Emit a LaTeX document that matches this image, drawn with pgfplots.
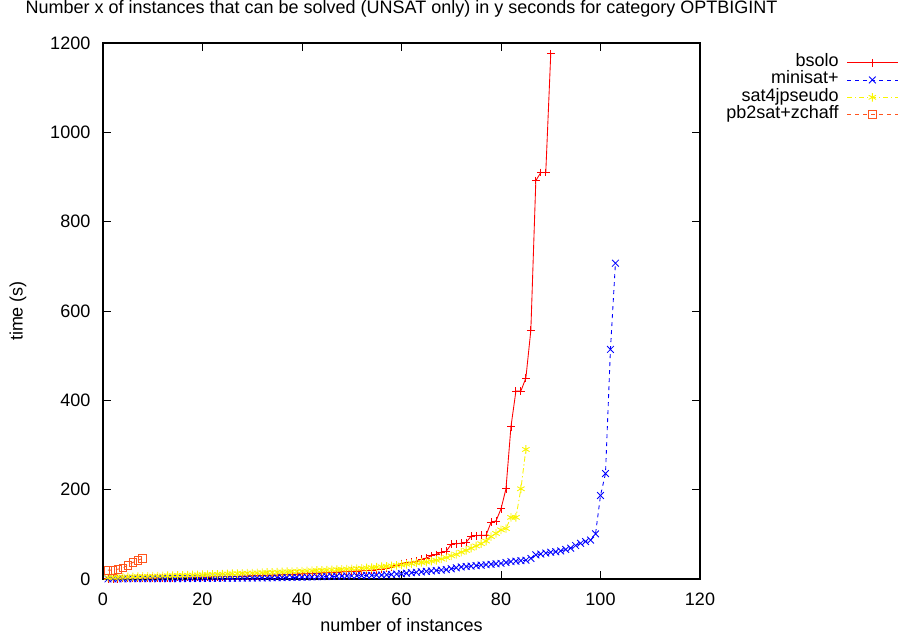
\documentclass[border=0pt]{standalone}
\usepackage{fontspec}
\setmainfont{Liberation Sans}
\usepackage{pgfplots}
\pgfplotsset{compat=1.18}
\definecolor{pbcol}{RGB}{255,85,30}
\definecolor{ylw}{RGB}{250,245,0}
\begin{document}
\begin{tikzpicture}[font=\fontsize{13.5}{15}\selectfont]
\path[use as bounding box] (-77.25pt,-45pt) rectangle (599.25pt,434.25pt);
\begin{axis}[
  scale only axis, width=447.75pt, height=402pt,
  xmin=0, xmax=120, ymin=0, ymax=1200,
  xtick={0,20,...,120}, ytick={0,200,...,1200},
  tick align=inside, major tick length=6pt,
  axis line style={line width=0.8pt},
  tick style={black, line width=0.6pt},
  /pgf/number format/assume math mode=true,
  /pgf/number format/1000 sep={},
  tick label style={font=\fontsize{13.5}{15}\selectfont},
  xticklabel style={yshift=-7pt},
  yticklabel style={xshift=-6pt},
  clip=false,
  title={Number x of instances that can be solved (UNSAT only) in y seconds for category OPTBIGINT},
  title style={at={(axis description cs:0.5,1)}, anchor=base, yshift=16pt},
  xlabel={number of instances},
  xlabel style={at={(axis description cs:0.5,-0.0858)}, anchor=center},
  ylabel={time (s)},
  ylabel style={at={(axis description cs:-0.1424,0.5)}, anchor=center, rotate=0},
  legend cell align=right,
  legend plot pos=right,
  legend style={draw=none, fill=none, at={(axis description cs:1.339,0.985)}, anchor=north east,
    nodes={inner sep=1pt, text height=8.5pt, text depth=2.5pt},
    row sep=0pt},
  legend image code/.code={\path (0pt,0pt); \draw[mark repeat=2,mark phase=2] plot coordinates {(5pt,0pt) (24pt,0pt) (43pt,0pt)};},
  every axis plot/.append style={line width=0.65pt, mark size=2.9pt, mark options={solid}},
]
\addplot[red, mark=+] coordinates {
(1,0.5)(2,0.6)(3,0.8)(4,1)(5,1.1)(6,1.3)(7,1.5)(8,1.7)(9,2)(10,2.2)
(11,2.4)(12,2.6)(13,2.8)(14,3)(15,3.2)(16,3.4)(17,3.6)(18,3.8)(19,4)(20,4.2)
(21,4.5)(22,4.8)(23,5)(24,5.3)(25,5.6)(26,5.9)(27,6.2)(28,6.5)(29,6.8)(30,7.1)
(31,7.5)(32,7.9)(33,8.3)(34,8.7)(35,9.1)(36,9.5)(37,10)(38,10.5)(39,11)(40,11.5)
(41,12)(42,12.5)(43,13)(44,13.6)(45,14.2)(46,14.8)(47,15.4)(48,16)(49,16.6)(50,17.2)
(51,17.8)(52,18.4)(53,19)(54,19.6)(55,20.5)(56,22)(57,24)(58,27)(59,30)(60,35)
(61,36)(62,38)(63,40)(64,44)(65,47)(66,52)(67,55)(68,60)(69,62)(70,78)
(71,79)(72,80)(73,82)(74,96)(75,97)(76,98)(77,98)(78,127)(79,130)(80,157)
(81,202)(82,341)(83,421)(84,421)(85,450)(86,557)(87,892)(88,910)(89,910)(90,1176)
};
\addlegendentry{bsolo}
\addplot[blue, mark=x, mark size=3.6pt, dash pattern=on 3pt off 3pt] coordinates {
(1,0.2)(2,0.3)(3,0.3)(4,0.4)(5,0.4)(6,0.5)(7,0.5)(8,0.6)(9,0.6)(10,0.7)
(11,0.7)(12,0.8)(13,0.8)(14,0.9)(15,0.9)(16,1)(17,1)(18,1.1)(19,1.2)(20,1.3)
(21,1.4)(22,1.5)(23,1.6)(24,1.7)(25,1.8)(26,1.9)(27,2)(28,2.1)(29,2.2)(30,2.3)
(31,2.4)(32,2.5)(33,2.6)(34,2.8)(35,3)(36,3.2)(37,3.4)(38,3.6)(39,3.8)(40,4)
(41,4.3)(42,4.6)(43,4.9)(44,5.2)(45,5.5)(46,5.8)(47,6.1)(48,6.4)(49,6.7)(50,7)
(51,7.3)(52,7.6)(53,7.9)(54,8.2)(55,8.5)(56,8.8)(57,9.2)(58,10)(59,11)(60,12)
(61,13)(62,14)(63,15)(64,16)(65,17)(66,18)(67,19)(68,20)(69,21)(70,23)
(71,25)(72,27)(73,28)(74,29)(75,30)(76,31)(77,32)(78,33)(79,34)(80,35)
(81,37)(82,39)(83,40)(84,41)(85,42)(86,46)(87,54)(88,56)(89,58)(90,60)
(91,61)(92,63)(93,66)(94,69)(95,75)(96,80)(97,84)(98,87)(99,101)(100,187)
(101,236)(102,514)(103,707)
};
\addlegendentry{minisat+}
\addplot[ylw, mark=asterisk, mark size=3.2pt, dash pattern=on 4pt off 2pt on 1pt off 2pt] coordinates {
(1,3)(2,3.5)(3,4)(4,4.3)(5,4.6)(6,5)(7,5.3)(8,5.6)(9,6)(10,6.3)
(11,6.6)(12,7)(13,7.3)(14,7.6)(15,8)(16,8.3)(17,8.6)(18,9)(19,9.3)(20,9.6)
(21,10)(22,10.3)(23,10.6)(24,11)(25,11.4)(26,11.8)(27,12.2)(28,12.6)(29,13)(30,13.4)
(31,13.8)(32,14.2)(33,14.6)(34,15)(35,15.4)(36,15.8)(37,16.2)(38,16.6)(39,17)(40,17.5)
(41,18)(42,18.5)(43,19)(44,19.5)(45,20)(46,20.5)(47,21)(48,21.6)(49,22.2)(50,22.8)
(51,23.4)(52,24)(53,24.8)(54,25.6)(55,26.5)(56,27.5)(57,28.5)(58,29.5)(59,30.5)(60,31.5)
(61,33)(62,34.5)(63,36)(64,37)(65,38)(66,40)(67,42)(68,45)(69,48)(70,52)
(71,55)(72,60)(73,64)(74,69)(75,74)(76,79)(77,85)(78,95)(79,102)(80,110)
(81,113)(82,138)(83,138)(84,202)(85,290)
};
\addlegendentry{sat4jpseudo}
\addplot[pbcol, mark=square, dash pattern=on 3pt off 3pt] coordinates {
(1,20)(2,20)(3,22)(4,25)(5,31)(6,37)(7,42)(8,46)
};
\addlegendentry{pb2sat+zchaff}
\end{axis}
\end{tikzpicture}
\end{document}
